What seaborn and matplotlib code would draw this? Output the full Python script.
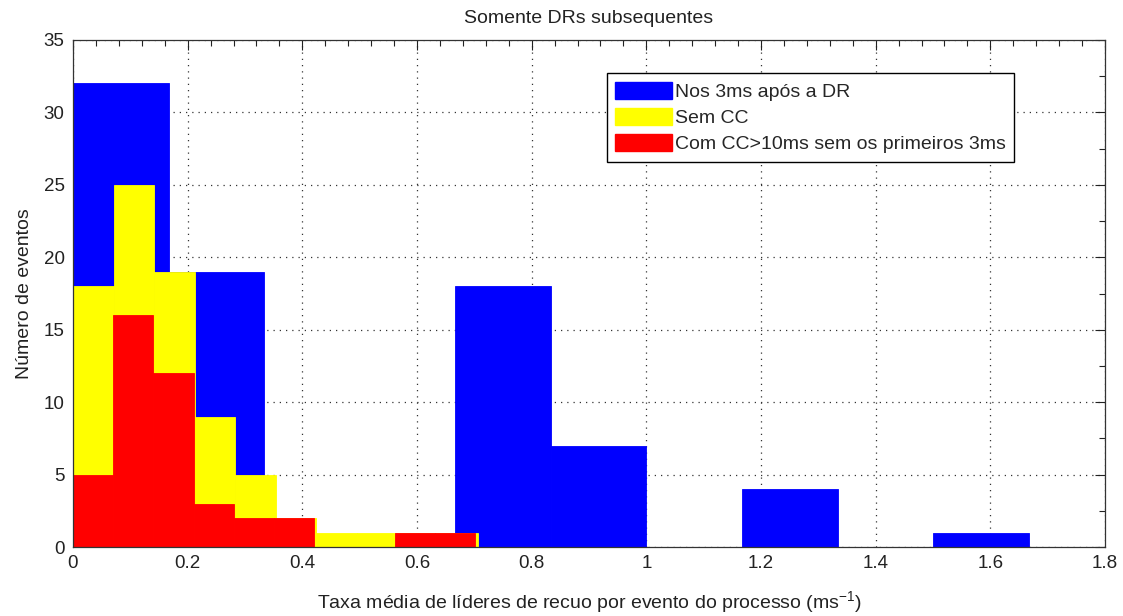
import numpy as np
import pandas as pd
import matplotlib
matplotlib.use("Agg")
import matplotlib.pyplot as plt
from matplotlib.patches import Patch
from matplotlib.ticker import MultipleLocator
import seaborn as sns

# histogram counts per bin
blue_counts = [32, 19, 0, 0, 18, 7, 0, 4, 0, 1]
yellow_counts = [18, 25, 19, 9, 5, 2, 1, 1, 1, 1]
red_counts = [5, 16, 12, 3, 2, 2, 0, 0, 1, 1]

# upper edge of each series' 10 equal bins (lower edge is 0)
blue_max = 1.667
yellow_max = 0.707
red_max = 0.702

labels = ["Nos 3ms após a DR", "Sem CC", "Com CC>10ms sem os primeiros 3ms"]
colors = ["#0000ff", "#ffff00", "#ff0000"]

sns.set_style("white")
plt.rcParams['font.family'] = ['Liberation Sans', 'DejaVu Sans']
plt.rcParams['mathtext.fontset'] = 'custom'
plt.rcParams['mathtext.rm'] = 'Liberation Sans'

fig = plt.figure(figsize=(11.23, 6.16), dpi=100)
ax = fig.add_axes([73 / 1123, 1 - 547 / 616, (1105 - 73) / 1123, (547 - 40) / 616])

for counts, top, col in zip([blue_counts, yellow_counts, red_counts],
                            [blue_max, yellow_max, red_max], colors):
    edges = np.linspace(0, top, len(counts) + 1)
    df = pd.DataFrame({"center": (edges[:-1] + edges[1:]) / 2, "count": counts})
    sns.histplot(data=df, x="center", weights="count", bins=edges.tolist(),
                 stat="count", color=col, alpha=1, edgecolor=col,
                 linewidth=0.6, ax=ax, zorder=2)

ax.set_xlim(0, 1.8)
ax.set_ylim(0, 35)
ax.xaxis.set_minor_locator(MultipleLocator(0.04))
ax.yaxis.set_major_locator(MultipleLocator(5))
ax.yaxis.set_minor_locator(MultipleLocator(2.5))
ax.set_xticks(np.arange(0, 1.81, 0.2))
ax.set_xticklabels(["0", "0.2", "0.4", "0.6", "0.8", "1", "1.2", "1.4", "1.6", "1.8"])
ax.tick_params(which="both", direction="in", top=True, right=True,
               labelsize=13.5, colors="#222222", width=0.8)
ax.tick_params(which="major", length=7, pad=6)
ax.tick_params(which="minor", length=4)
ax.grid(True, which="major", linestyle=(0, (1, 4)), color="#333333", linewidth=0.9)
ax.set_axisbelow(True)
for s in ax.spines.values():
    s.set_color("#333333")
    s.set_linewidth(0.9)

ax.set_title("Somente DRs subsequentes", fontsize=14, color="#222222", pad=12)
ax.set_xlabel("Taxa média de líderes de recuo por evento do processo (ms$^{-1}$)",
              fontsize=14, color="#222222", labelpad=12)
ax.set_ylabel("Número de eventos", fontsize=14, color="#222222", labelpad=8)

handles = [Patch(facecolor=c, edgecolor=c) for c in colors]
leg = ax.legend(handles, labels, loc="upper left", bbox_to_anchor=(0.517, 0.935),
                fontsize=14, frameon=True, fancybox=False, framealpha=1,
                edgecolor="black", handlelength=2.9, handleheight=1.0,
                handletextpad=0.15, labelspacing=0.35, borderpad=0.45,
                borderaxespad=0)
leg.get_frame().set_linewidth(1.0)

fig.savefig("out.png", dpi=100)
